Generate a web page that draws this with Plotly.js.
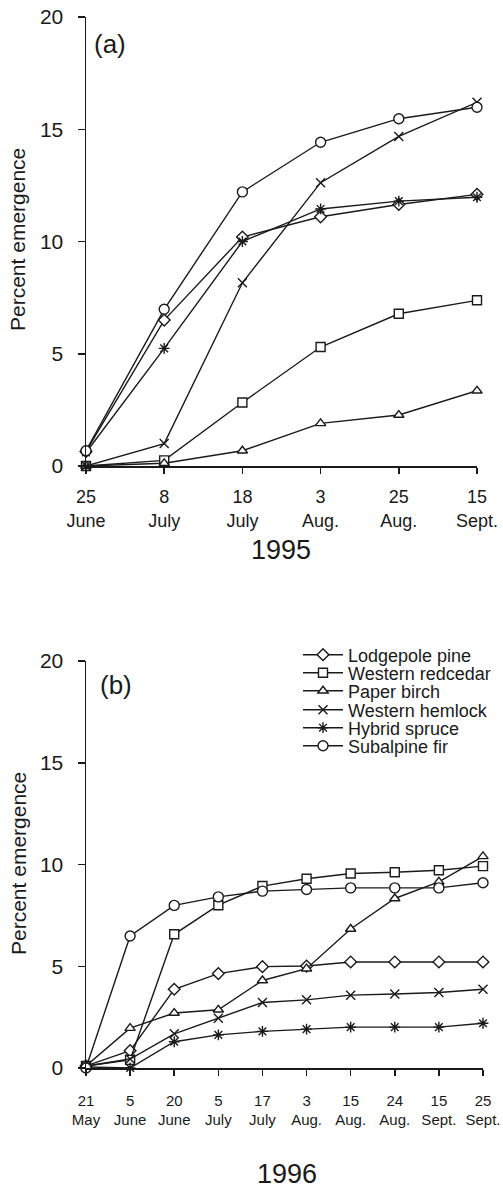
<!DOCTYPE html>
<html>
<head>
<meta charset="utf-8">
<script src="https://cdn.plot.ly/plotly-3.0.1.min.js"></script>
<style>html,body{margin:0;padding:0;background:#fff;}#chart{width:503px;height:1188px;}</style>
</head>
<body>
<div id="chart"></div>
<script>
// Categories (collection dates)
const catsA = ['25<br>June','8<br>July','18<br>July','3<br>Aug.','25<br>Aug.','15<br>Sept.'];
const catsB = ['21<br>May','5<br>June','20<br>June','5<br>July','17<br>July','3<br>Aug.','15<br>Aug.','24<br>Aug.','15<br>Sept.','25<br>Sept.'];

// Species names
const species = ['Lodgepole pine','Western redcedar','Paper birch','Western hemlock','Hybrid spruce','Subalpine fir'];

// 1995 (panel a) percent emergence
const lodgepoleA = [0.65, 6.5, 10.2, 11.1, 11.65, 12.1];
const redcedarA  = [0, 0.25, 2.83, 5.3, 6.78, 7.38];
const birchA     = [0, 0.12, 0.68, 1.9, 2.27, 3.35];
const hemlockA   = [0, 1.0, 8.16, 12.62, 14.68, 16.2];
const spruceA    = [0.6, 5.24, 10.0, 11.45, 11.8, 11.97];
const firA       = [0.68, 6.98, 12.21, 14.42, 15.47, 15.98];

// 1996 (panel b) percent emergence
const lodgepoleB = [0.1, 0.85, 3.87, 4.64, 4.98, 5.01, 5.21, 5.21, 5.21, 5.21];
const redcedarB  = [0.1, 0.4, 6.57, 8.0, 8.94, 9.3, 9.56, 9.62, 9.72, 9.92];
const birchB     = [0.1, 1.96, 2.70, 2.86, 4.30, 4.88, 6.83, 8.33, 9.15, 10.4];
const hemlockB   = [0.1, 0.44, 1.68, 2.45, 3.22, 3.35, 3.58, 3.64, 3.71, 3.87];
const spruceB    = [0.05, 0, 1.29, 1.63, 1.80, 1.91, 2.01, 2.01, 2.01, 2.2];
const firB       = [0, 6.49, 7.99, 8.41, 8.69, 8.77, 8.85, 8.85, 8.85, 9.10];

const yTicks = [0, 5, 10, 15, 20];

const INK = '#1a1a1a';
const FONT = 'Liberation Sans, Arial, Helvetica, sans-serif';

const styles = [
  {symbol: 'diamond', color: '#fff', size: 9},
  {symbol: 'square', color: '#fff', size: 9},
  {symbol: 'triangle-up', color: '#fff', size: 9},
  {symbol: 'x-thin', color: INK, size: 9},
  {symbol: 'asterisk', color: INK, size: 9},
  {symbol: 'circle', color: '#fff', size: 10}
];

const seriesA = [lodgepoleA, redcedarA, birchA, hemlockA, spruceA, firA];
const seriesB = [lodgepoleB, redcedarB, birchB, hemlockB, spruceB, firB];
const legendIds = ['legend','legend2','legend3','legend4','legend5','legend6'];

const traces = [];
seriesA.forEach((ys, i) => {
  traces.push({
    type: 'scatter', mode: 'lines+markers', x: catsA, y: ys, name: species[i],
    xaxis: 'x', yaxis: 'y', showlegend: false, cliponaxis: false,
    line: {color: INK, width: 1.4},
    marker: {symbol: styles[i].symbol, size: styles[i].size, color: styles[i].color, line: {color: INK, width: 1.4}}
  });
});
seriesB.forEach((ys, i) => {
  traces.push({
    type: 'scatter', mode: 'lines+markers', x: catsB, y: ys, name: species[i],
    xaxis: 'x2', yaxis: 'y2', showlegend: true, legend: legendIds[i], cliponaxis: false,
    line: {color: INK, width: 1.4},
    marker: {symbol: styles[i].symbol, size: styles[i].size, color: styles[i].color, line: {color: INK, width: 1.4}}
  });
});

const W = 503, H = 1188;
const px = v => v / W;
const py = v => 1 - v / H;

const xCommon = {
  type: 'category', showline: true, linecolor: INK, linewidth: 1.5,
  ticks: 'outside', ticklen: 6, tickwidth: 1.5, tickcolor: INK,
  showgrid: false, zeroline: false, fixedrange: true
};
const yCommon = {
  range: [0, 20], tickvals: yTicks, ticktext: yTicks.map(String),
  showline: true, linecolor: INK, linewidth: 1.5,
  ticks: 'outside', ticklen: 7, tickwidth: 1.5, tickcolor: INK,
  showgrid: false, zeroline: false, fixedrange: true,
  tickfont: {family: FONT, size: 21, color: INK}, ticklabelstandoff: 10
};

// legend rows (vertical centres in px) for the six species in panel (b)
const legendRows = [655, 673, 691, 710, 728, 746];

const layout = {
  width: W, height: H,
  margin: {l: 0, r: 0, t: 0, b: 0},
  paper_bgcolor: '#fff', plot_bgcolor: '#fff',
  font: {family: FONT, color: INK},
  showlegend: true,
  xaxis: Object.assign({}, xCommon, {
    domain: [px(86), px(477)], anchor: 'y', range: [0, catsA.length - 1],
    tickfont: {family: FONT, size: 18, color: INK}, ticklabelstandoff: 8
  }),
  yaxis: Object.assign({}, yCommon, {domain: [py(466), py(17)], anchor: 'x'}),
  xaxis2: Object.assign({}, xCommon, {
    domain: [px(86), px(483)], anchor: 'y2', range: [0, catsB.length - 1],
    tickfont: {family: FONT, size: 15, color: INK}, ticklabelstandoff: 12
  }),
  yaxis2: Object.assign({}, yCommon, {domain: [py(1068), py(661)], anchor: 'x2'}),
  annotations: [
    {text: 'Percent emergence', xref: 'paper', yref: 'paper', x: px(18), y: py(240), textangle: -90,
     showarrow: false, font: {family: FONT, size: 21, color: INK}, xanchor: 'center', yanchor: 'middle'},
    {text: 'Percent emergence', xref: 'paper', yref: 'paper', x: px(18), y: py(864), textangle: -90,
     showarrow: false, font: {family: FONT, size: 21, color: INK}, xanchor: 'center', yanchor: 'middle'},
    {text: '(a)', xref: 'paper', yref: 'paper', x: px(110), y: py(44), showarrow: false,
     font: {family: FONT, size: 26, color: INK}, xanchor: 'center', yanchor: 'middle'},
    {text: '(b)', xref: 'paper', yref: 'paper', x: px(116), y: py(685), showarrow: false,
     font: {family: FONT, size: 26, color: INK}, xanchor: 'center', yanchor: 'middle'},
    {text: '1995', xref: 'paper', yref: 'paper', x: px(281), y: py(550), showarrow: false,
     font: {family: FONT, size: 27, color: INK}, xanchor: 'center', yanchor: 'middle'},
    {text: '1996', xref: 'paper', yref: 'paper', x: px(287), y: py(1174), showarrow: false,
     font: {family: FONT, size: 27, color: INK}, xanchor: 'center', yanchor: 'middle'}
  ]
};

legendIds.forEach((id, i) => {
  layout[id] = {
    x: px(298), y: py(legendRows[i]), xanchor: 'left', yanchor: 'middle',
    bgcolor: 'rgba(0,0,0,0)', borderwidth: 0,
    font: {family: FONT, size: 18, color: INK},
    itemwidth: 40
  };
});

Plotly.newPlot('chart', traces, layout, {displayModeBar: false, staticPlot: true});
</script>
</body>
</html>
